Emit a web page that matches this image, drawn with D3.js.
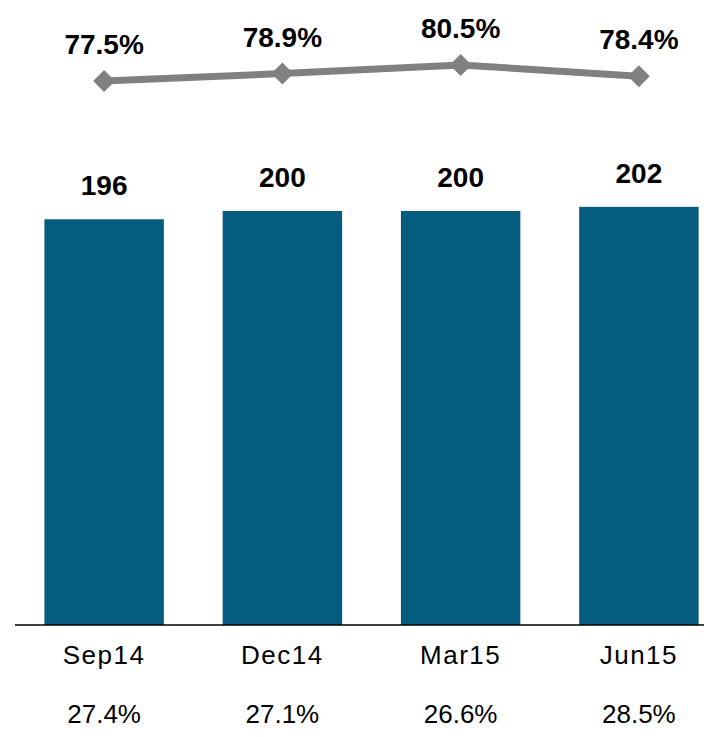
<!DOCTYPE html>
<html>
<head>
<meta charset="utf-8">
<script src="https://cdn.jsdelivr.net/npm/d3@7"></script>
<style>
  body { margin: 0; background: #fff; }
  #chart { width: 704px; height: 737px; }
  text { font-family: Arial, "Liberation Sans", sans-serif; }
</style>
</head>
<body>
<div id="chart"></div>
<script>
(function() {

  var categories = ['Sep14', 'Dec14', 'Mar15', 'Jun15'];
  var barValues = [196, 200, 200, 202];
  var lineValues = [77.5, 78.9, 80.5, 78.4];
  var bottomLabels = ['27.4%', '27.1%', '26.6%', '28.5%'];

  var width = 704;
  var height = 737;
  var baseY = 625;

  var svg = d3.select('#chart')
    .append('svg')
    .attr('width', width)
    .attr('height', height);

  var xScale = d3.scaleBand()
    .domain(categories)
    .range([15, 728])
    .paddingInner(0.33)
    .paddingOuter(0.165);

  var yBar = d3.scaleLinear()
    .domain([0, 300])
    .range([baseY, 4]);

  var yLine = d3.scaleLinear()
    .domain([70, 85])
    .range([121, 41]);

  var cx = function(d, i) { return xScale(categories[i]) + xScale.bandwidth() / 2; };

  // bars
  svg.selectAll('rect.bar')
    .data(barValues)
    .enter()
    .append('rect')
    .attr('class', 'bar')
    .attr('x', function(d, i) { return xScale(categories[i]); })
    .attr('y', function(d) { return yBar(d); })
    .attr('width', xScale.bandwidth())
    .attr('height', function(d) { return baseY - yBar(d); })
    .attr('fill', '#045c7e');

  svg.selectAll('text.barLabel')
    .data(barValues)
    .enter()
    .append('text')
    .attr('class', 'barLabel')
    .attr('x', cx)
    .attr('y', function(d) { return yBar(d) - 24; })
    .attr('text-anchor', 'middle')
    .style('font-size', '28px')
    .style('font-weight', 'bold')
    .text(function(d) { return d; });

  // baseline axis
  var xAxis = d3.axisBottom(xScale).tickSize(0).tickPadding(21);
  var axis = svg.append('g')
    .attr('transform', 'translate(0,' + baseY + ')')
    .call(xAxis);
  axis.select('.domain').remove();
  axis.selectAll('.tick text')
    .style('font-size', '26px')
    .style('letter-spacing', '1.5px')
    .style('font-family', 'Arial, "Liberation Sans", sans-serif')
    .attr('fill', '#000');
  svg.append('line')
    .attr('x1', 15).attr('x2', width)
    .attr('y1', baseY).attr('y2', baseY)
    .attr('stroke', '#000')
    .attr('stroke-width', 1.5);

  svg.selectAll('text.bottom')
    .data(bottomLabels)
    .enter()
    .append('text')
    .attr('class', 'bottom')
    .attr('x', cx)
    .attr('y', 723)
    .attr('text-anchor', 'middle')
    .style('font-size', '26px')
    .text(function(d) { return d; });

  // line
  var line = d3.line()
    .x(cx)
    .y(function(d) { return yLine(d); });

  svg.append('path')
    .datum(lineValues)
    .attr('d', line)
    .attr('fill', 'none')
    .attr('stroke', '#808080')
    .attr('stroke-width', 7);

  svg.selectAll('path.marker')
    .data(lineValues)
    .enter()
    .append('path')
    .attr('class', 'marker')
    .attr('d', d3.symbol().type(d3.symbolSquare).size(240))
    .attr('transform', function(d, i) { return 'translate(' + cx(d, i) + ',' + yLine(d) + ') rotate(45)'; })
    .attr('fill', '#808080');

  svg.selectAll('text.lineLabel')
    .data(lineValues)
    .enter()
    .append('text')
    .attr('class', 'lineLabel')
    .attr('x', cx)
    .attr('y', function(d) { return yLine(d) - 27; })
    .attr('text-anchor', 'middle')
    .style('font-size', '28px')
    .style('font-weight', 'bold')
    .text(function(d) { return d.toFixed(1) + '%'; });

})();
</script>
</body>
</html>
